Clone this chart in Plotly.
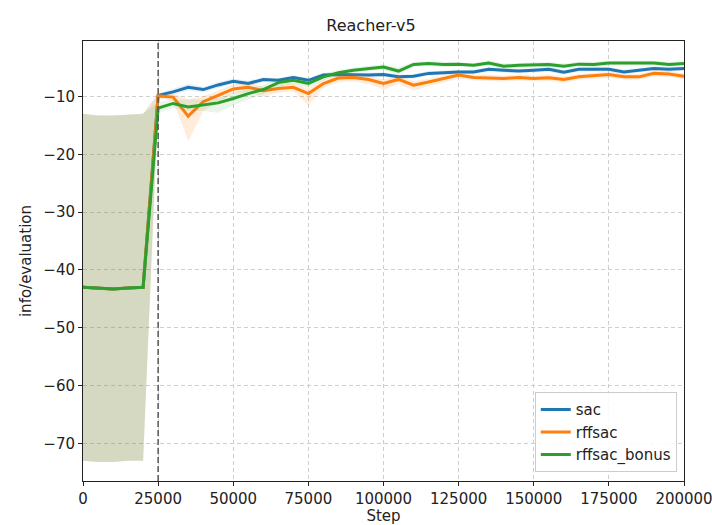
import plotly.graph_objects as go

steps = [i * 5000 for i in range(41)]

# shared random-policy evaluations before learning starts (0..20000)
pre_mean = [-43.0, -43.1, -43.3, -43.1, -43.0]
pre_upper = [-13.0, -13.3, -13.3, -13.1, -13.0]
pre_lower = [-73.0, -73.2, -73.2, -73.0, -73.0]

sac_mean = [-9.8, -9.2, -8.4, -8.8, -8.0, -7.35, -7.75, -7.05, -7.2, -6.7, -7.2, -6.3,
            -6.2, -6.3, -6.3, -6.2, -6.6, -6.5, -6.0, -5.9, -5.75, -5.75, -5.3, -5.45,
            -5.6, -5.45, -5.3, -5.8, -5.3, -5.3, -5.3, -5.75, -5.45, -5.15, -5.3, -5.15]
sac_half = [0.3, 0.5, 0.6, 0.5, 0.5, 0.4, 0.5, 0.4, 0.4, 0.4, 0.4, 0.4,
            0.4, 0.4, 0.4, 0.4, 0.4, 0.4, 0.4, 0.4, 0.4, 0.4, 0.4, 0.4,
            0.4, 0.4, 0.4, 0.4, 0.4, 0.4, 0.4, 0.4, 0.4, 0.4, 0.4, 0.4]

rff_mean = [-9.9, -10.1, -13.4, -10.9, -9.8, -8.7, -8.4, -9.0, -8.6, -8.4, -9.5, -7.75,
            -6.8, -6.7, -7.05, -7.75, -7.05, -8.05, -7.5, -6.9, -6.3, -6.7, -6.75, -6.9,
            -6.7, -6.9, -6.75, -7.05, -6.6, -6.4, -6.2, -6.6, -6.6, -6.0, -6.1, -6.5]
rff_upper = [-9.6, -9.5, -10.5, -9.9, -9.0, -7.9, -7.6, -8.3, -7.9, -7.7, -8.6, -7.0,
             -6.1, -6.0, -6.4, -7.0, -6.4, -7.3, -6.9, -6.3, -5.8, -6.2, -6.2, -6.4,
             -6.2, -6.4, -6.2, -6.5, -6.1, -5.9, -5.7, -6.1, -6.1, -5.5, -5.6, -6.0]
rff_lower = [-10.3, -10.8, -17.7, -12.5, -11.0, -9.5, -9.2, -10.0, -9.3, -9.1, -11.5, -8.5,
             -7.5, -7.4, -7.8, -8.8, -7.8, -9.0, -8.2, -7.5, -6.9, -7.2, -7.3, -7.4,
             -7.2, -7.4, -7.3, -7.6, -7.1, -6.9, -6.7, -7.1, -7.1, -6.5, -6.6, -7.0]

bon_mean = [-12.0, -11.2, -11.8, -11.5, -11.1, -10.35, -9.5, -8.8, -7.6, -7.2, -7.75, -6.6,
            -5.9, -5.45, -5.15, -4.9, -5.6, -4.45, -4.3, -4.45, -4.4, -4.6, -4.2, -4.75,
            -4.6, -4.55, -4.45, -4.75, -4.4, -4.45, -4.2, -4.2, -4.2, -4.2, -4.45, -4.3]
bon_upper = [-11.0, -10.5, -10.5, -10.5, -10.3, -9.5, -8.6, -8.0, -6.9, -6.5, -7.0, -6.0,
             -5.4, -5.0, -4.7, -4.4, -5.0, -4.0, -3.9, -4.0, -4.0, -4.2, -3.7, -4.3,
             -4.2, -4.1, -4.0, -4.3, -4.0, -4.0, -3.8, -3.8, -3.8, -3.8, -4.0, -3.9]
bon_lower = [-12.8, -12.0, -12.5, -12.5, -12.8, -11.5, -10.5, -9.6, -8.3, -7.9, -8.5, -7.2,
             -6.4, -5.9, -5.6, -5.4, -6.2, -4.9, -4.7, -4.9, -4.8, -5.0, -4.7, -5.2,
             -5.0, -5.0, -4.9, -5.2, -4.8, -4.9, -4.6, -4.6, -4.6, -4.6, -4.9, -4.7]

series = [
    ("sac", "#1f77b4", "rgba(31,119,180,0.10)", sac_mean,
     [m + h for m, h in zip(sac_mean, sac_half)], [m - h for m, h in zip(sac_mean, sac_half)]),
    ("rffsac", "#ff7f0e", "rgba(255,127,14,0.15)", rff_mean, rff_upper, rff_lower),
    ("rffsac_bonus", "#2ca02c", "rgba(44,160,44,0.11)", bon_mean, bon_upper, bon_lower),
]

x_ticks = [0, 25000, 50000, 75000, 100000, 125000, 150000, 175000, 200000]
y_ticks = [-70, -60, -50, -40, -30, -20, -10]
y_labels = ["\u221270", "\u221260", "\u221250", "\u221240", "\u221230", "\u221220", "\u221210"]
start_step = 25000

fig = go.Figure()
for name, col, fcol, mean, up, lo in series:
    m = pre_mean + mean
    u = pre_upper + up
    l = pre_lower + lo
    fig.add_trace(go.Scatter(x=steps, y=m, mode="lines", name=name,
                             line=dict(color=col, width=3), showlegend=True))
    fig.add_trace(go.Scatter(x=steps, y=l, mode="lines", line=dict(width=0),
                             showlegend=False, hoverinfo="skip"))
    fig.add_trace(go.Scatter(x=steps, y=u, mode="lines", line=dict(width=0),
                             fill="tonexty", fillcolor=fcol, showlegend=False, hoverinfo="skip"))

fig.add_shape(type="line", x0=start_step, x1=start_step, xref="x", y0=0, y1=1, yref="paper",
              line=dict(color="#555555", width=1.5, dash="6px,3px"))

axis_common = dict(showline=True, linecolor="#222222", linewidth=1, mirror=True,
                   ticks="outside", ticklen=4, tickcolor="#222222", automargin=False,
                   ticklabeloverflow="allow",
                   showgrid=True, gridcolor="#cfcfcf", gridwidth=0.8, griddash="4px,3px",
                   zeroline=False, tickfont=dict(size=15, color="#222222"))

fig.update_layout(
    width=712, height=525,
    margin=dict(l=83, r=28, t=41, b=44),
    paper_bgcolor="white", plot_bgcolor="white",
    font=dict(family="DejaVu Sans", size=15, color="#222222"),
    title=dict(text="Reacher-v5", x=371 / 712, xanchor="center", y=(525 - 25) / 525, yanchor="middle",
               font=dict(size=16, color="#222222")),
    xaxis=dict(range=[0, 200000], tickvals=x_ticks, ticktext=[str(v) for v in x_ticks],
               title=dict(text="Step", standoff=6, font=dict(size=15)), **axis_common),
    yaxis=dict(range=[-76.5, -0.4], tickvals=y_ticks, ticktext=y_labels,
               title=dict(text="info/evaluation", standoff=8, font=dict(size=15)), **axis_common),
    legend=dict(x=0.988, xanchor="right", y=0.02, yanchor="bottom", traceorder="normal",
                bgcolor="rgba(255,255,255,0.85)", bordercolor="#cccccc", borderwidth=1,
                font=dict(size=15)),
    showlegend=True,
)

fig.write_html("out.html")
